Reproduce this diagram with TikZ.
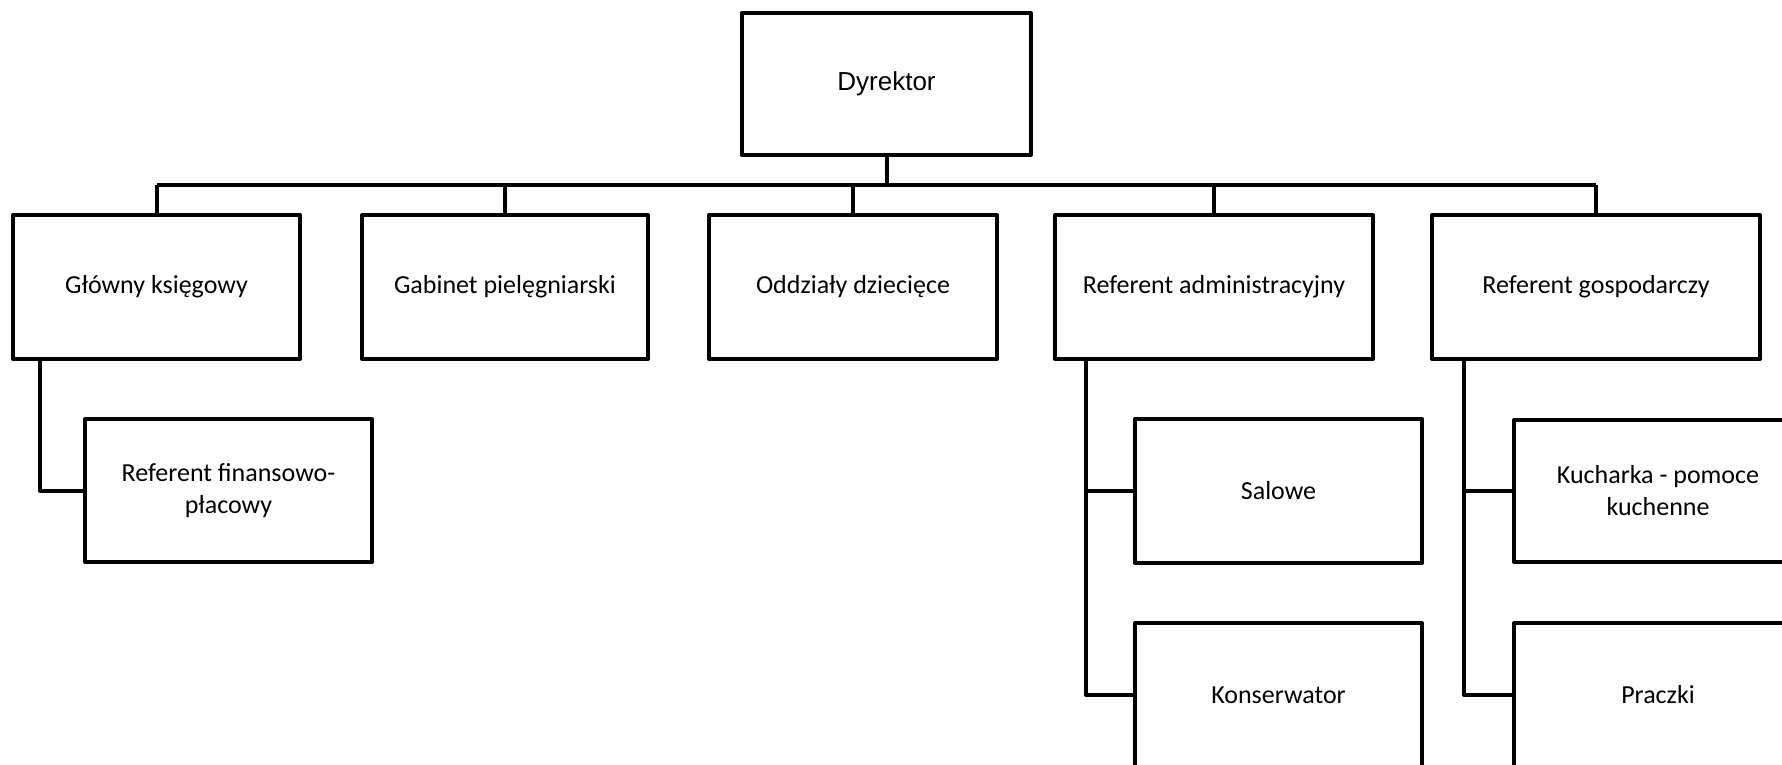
\documentclass[tikz,border=0pt]{standalone}
\usepackage{fontspec}
\setmainfont{Carlito}
\newfontfamily\arialf{Liberation Sans}
\begin{document}
\begin{tikzpicture}[x=1pt,y=-1pt,
  box/.style={draw=black, line width=4pt, line join=round, rectangle, fill=white,
    align=center, inner sep=0pt, font=\fontsize{26}{32}\selectfont},
  conn/.style={draw=black, line width=4pt, line join=round}]
\useasboundingbox (0,0) rectangle (1782,765);
\clip (0,0) rectangle (1782,765);
\fill[white] (0,0) rectangle (1782,765);
% top
\node[box, minimum width=289pt, minimum height=142pt, font=\arialf\fontsize{26}{32}\selectfont] (dyr) at (886.5,84) {Dyrektor};
% level 1
\node[box, minimum width=287pt, minimum height=144pt] (b1) at (156.5,287) {Główny księgowy};
\node[box, minimum width=286pt, minimum height=144pt] (b2) at (505,287) {Gabinet pielęgniarski};
\node[box, minimum width=288pt, minimum height=144pt] (b3) at (853,287) {Oddziały dziecięce};
\node[box, minimum width=318pt, minimum height=144pt] (b4) at (1214,287) {Referent administracyjny};
\node[box, minimum width=328pt, minimum height=144pt] (b5) at (1596,287) {Referent gospodarczy};
% level 2
\node[box, minimum width=287pt, minimum height=143pt] (rf) at (228.5,490.5) {Referent finansowo-\\płacowy};
\node[box, minimum width=287pt, minimum height=144pt] (sal) at (1278.5,491) {Salowe};
\node[box, minimum width=287pt, minimum height=144pt] (kon) at (1278.5,695) {Konserwator};
\node[box, minimum width=288pt, minimum height=142pt] (kuch) at (1658,491) {Kucharka - pomoce\\kuchenne};
\node[box, minimum width=288pt, minimum height=144pt] (pr) at (1658,695) {Praczki};
% bus
\coordinate (busL) at (156.5,185);
\coordinate (busR) at (1596,185);
\draw[conn] (busL) -- (busR);
\draw[conn] (dyr.south) -- (dyr.south |- busL);
\foreach \b in {b1,b2,b3,b4,b5} {
  \draw[conn] (\b.north) -- (\b.north |- busL);
}
% sub connectors
\coordinate (s1) at ([xshift=29pt]b1.south west);
\coordinate (s4) at ([xshift=33pt]b4.south west);
\coordinate (s5) at ([xshift=34pt]b5.south west);
\draw[conn] (s1) |- (rf.west);
\draw[conn] (s4) |- (kon.west);
\draw[conn] (s4 |- sal.west) -- (sal.west);
\draw[conn] (s5) |- (pr.west);
\draw[conn] (s5 |- kuch.west) -- (kuch.west);
\end{tikzpicture}
\end{document}
